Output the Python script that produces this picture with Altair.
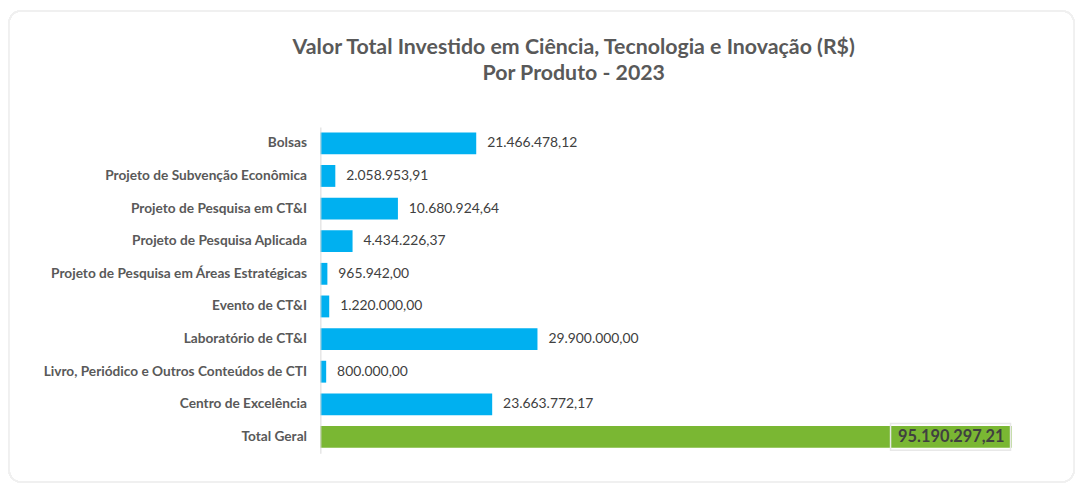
import altair as alt
import pandas as pd

categories = [
    "Bolsas",
    "Projeto de Subvenção Econômica",
    "Projeto de Pesquisa em CT&I",
    "Projeto de Pesquisa Aplicada",
    "Projeto de Pesquisa em Áreas Estratégicas",
    "Evento de CT&I",
    "Laboratório de CT&I",
    "Livro, Periódico e Outros Conteúdos de CTI",
    "Centro de Excelência",
    "Total Geral",
]
values = [
    21466478.12,
    2058953.91,
    10680924.64,
    4434226.37,
    965942.00,
    1220000.00,
    29900000.00,
    800000.00,
    23663772.17,
    95190297.21,
]
kinds = ["item"] * 9 + ["total"]


def fmt_br(v):
    s = f"{v:,.2f}"
    return s.replace(",", "X").replace(".", ",").replace("X", ".")


df = pd.DataFrame({
    "categoria": categories,
    "valor": values,
    "tipo": kinds,
    "rotulo": [fmt_br(v) for v in values],
})

FONT = "Lato"

y_enc = alt.Y(
    "categoria:N",
    sort=categories,
    title=None,
    scale=alt.Scale(paddingInner=0.33, paddingOuter=0.165),
    axis=alt.Axis(
        labelFont=FONT,
        labelFontSize=13.8,
        labelFontWeight="bold",
        labelColor="#595959",
        labelPadding=14,
        ticks=False,
        domainColor="#d9d9d9",
        domainWidth=1,
        labelLimit=400,
        zindex=1,
    ),
)
x_enc = alt.X(
    "valor:Q",
    axis=None,
    scale=alt.Scale(domain=[0, 95190297.21], nice=False, zero=True),
)

base = alt.Chart(df)

card = base.mark_rect(
    fill="white", fillOpacity=0, stroke="#f0f0f0", strokeWidth=1.5, cornerRadius=12
).encode(
    x=alt.value(-314), x2=alt.value(760), y=alt.value(-117), y2=alt.value(358)
)

bars = base.mark_bar().encode(
    x=x_enc,
    y=y_enc,
    color=alt.Color(
        "tipo:N",
        scale=alt.Scale(domain=["item", "total"], range=["#00B0F0", "#7AB733"]),
        legend=None,
    ),
)

labels = base.transform_filter(alt.datum.tipo == "item").mark_text(
    align="left", baseline="middle", dx=11, font=FONT, fontSize=14, color="#404040"
).encode(x=x_enc, y=y_enc, text="rotulo:N")

total_box = base.transform_filter(alt.datum.tipo == "total").mark_bar(
    size=27, xOffset=-122, x2Offset=-1, fillOpacity=0, stroke="#e8e8e8", strokeWidth=1.5
).encode(x=x_enc, x2="valor:Q", y=y_enc)

total_label = base.transform_filter(alt.datum.tipo == "total").mark_text(
    align="right", baseline="middle", dx=-7, font=FONT, fontSize=16.5,
    fontWeight="bold", color="#404040"
).encode(x=x_enc, y=y_enc, text="rotulo:N")

chart = alt.layer(card, bars, labels, total_box, total_label).properties(
    width=697,
    height=329,
    padding={"left": 0, "top": 0, "right": 0, "bottom": 0},
    title=alt.TitleParams(
        text=[
            "Valor Total Investido em Ciência, Tecnologia e Inovação (R$)",
            "Por Produto - 2023",
        ],
        font=FONT,
        fontSize=21.5,
        fontWeight="bold",
        color="#595959",
        lineHeight=26,
        anchor="middle",
        frame="group",
        dx=-93,
        offset=-75,
    ),
).configure(background="white", view=alt.ViewConfig(stroke=None))

chart.save("out.html", embed_options={"renderer": "svg", "actions": False})
